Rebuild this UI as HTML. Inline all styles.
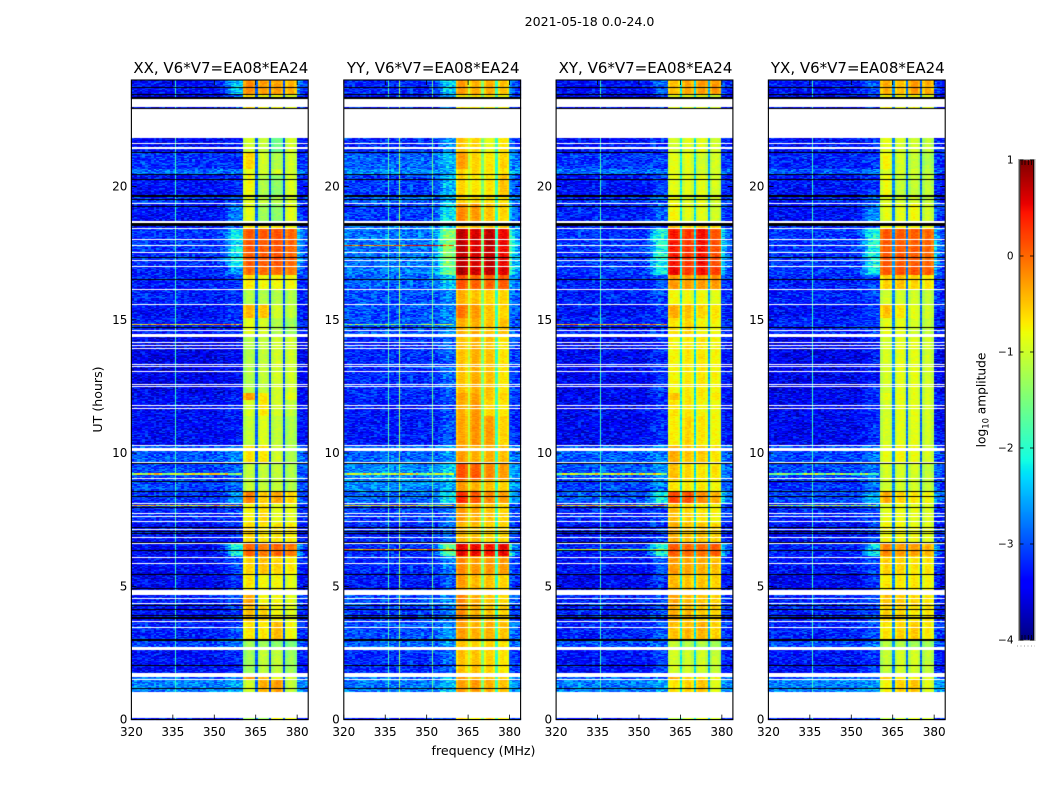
<!DOCTYPE html>
<html>
<head>
<meta charset="utf-8">
<title>2021-05-18 amplitude waterfall</title>
<style>
html,body{margin:0;padding:0;background:#fff;}
#figure{position:relative;width:1050px;height:800px;overflow:hidden;background:#fff;}
canvas{position:absolute;left:0;top:0;}
svg{position:absolute;left:0;top:0;}
text{font-family:"DejaVu Sans","Liberation Sans",sans-serif;fill:#000;}
</style>
</head>
<body>
<div id="figure">
<canvas id="heat" width="1050" height="800"></canvas>
<svg id="overlay" width="1050" height="800" viewBox="0 0 1050 800">
<text x="589.5" y="26" text-anchor="middle" font-size="12.6">2021-05-18 0.0-24.0</text>
<text x="483.5" y="755" text-anchor="middle" font-size="12.6">frequency (MHz)</text>
<text transform="translate(102,399.5) rotate(-90)" text-anchor="middle" font-size="12.6">UT (hours)</text>
<text transform="translate(985.5,400) rotate(-90)" text-anchor="middle" font-size="12.2">log<tspan dy="3" font-size="8.4">10</tspan><tspan dy="-3"> amplitude</tspan></text>
<g id="axes"></g>
</svg>
</div>
<script>
// ---- axis data ----
const panelTitles = ['XX, V6*V7=EA08*EA24','YY, V6*V7=EA08*EA24','XY, V6*V7=EA08*EA24','YX, V6*V7=EA08*EA24'];
const panelKeys = ['xx','yy','xy','yx'];
const freqTicks = [320,335,350,365,380];
const hourTicks = [0,5,10,15,20];
const colorTicks = [1,0,-1,-2,-3,-4];

// ---- heatmap data: one integration = 45 s (80 per hour), counted down from 24 UT ----
const epochEnd = [42,87,216,268,282,345,368,423,444,560,585,627,675,715,771,940,960,1010,1100,1146,1200,1237,1270,1330,1390,1430,1482,1540,1577,1628,1678,1710,1785,1797,1840,1920];

// each row: [background, near-band edge, sub-band 1, 2, 3, 4] in log10 amplitude
const levelsXX = [
[-3.35,-2.4,-0.2,-0.3,-0.3,-0.4],[-3.45,-2.9,-0.6,-0.8,-0.8,-0.9],[-3.4,-3.3,-1.0,-1.1,-1.6,-1.0],[-3.15,-3.2,-0.6,-1.0,-1.2,-1.0],
[-2.85,-2.8,-0.9,-1.0,-1.0,-1.0],[-3.35,-3.2,-0.8,-1.2,-1.4,-0.95],[-3.15,-3.1,-0.9,-1.1,-1.2,-1.0],[-3.35,-2.8,-0.9,-1.3,-1.4,-0.9],
[-3.35,-3.0,-0.7,-0.7,-0.7,-0.8],[-3.15,-2.2,0.05,0.05,0.1,0.0],[-3.25,-2.6,-0.05,-0.05,-0.05,-0.1],[-3.25,-3.1,-0.7,-0.8,-0.8,-0.8],
[-3.25,-3.2,-1.2,-1.2,-1.2,-1.2],[-3.35,-3.2,-0.45,-0.5,-1.0,-1.1],[-3.25,-3.2,-0.9,-1.0,-1.2,-1.3],[-3.5,-3.4,-1.2,-1.1,-1.0,-1.0],
[-3.4,-3.3,-0.3,-0.7,-1.0,-0.9],[-3.4,-3.3,-1.0,-0.7,-1.0,-1.1],[-3.4,-3.3,-1.1,-0.95,-1.1,-1.2],[-2.95,-2.7,-0.7,-0.7,-1.0,-1.2],
[-3.05,-2.9,-1.1,-1.1,-1.1,-1.2],[-3.05,-2.9,-1.1,-1.1,-1.1,-1.2],[-3.15,-2.7,-0.15,-0.55,-0.35,-0.6],[-3.25,-3.1,-0.8,-0.65,-0.9,-0.9],
[-3.35,-3.2,-0.6,-0.7,-0.7,-0.7],[-3.4,-2.1,0.0,-0.1,0.0,-0.1],[-3.4,-3.0,-0.6,-0.5,-0.6,-0.7],[-3.45,-3.2,-0.7,-0.8,-0.8,-0.9],
[-3.25,-3.1,-0.35,-0.8,-0.8,-0.9],[-3.35,-3.1,-0.5,-0.6,-0.8,-0.9],[-3.25,-3.0,-0.7,-0.7,-0.45,-0.8],[-3.05,-2.8,-1.3,-1.3,-1.4,-1.5],
[-3.35,-3.2,-1.3,-1.1,-1.1,-1.3],[-2.95,-2.8,-0.3,-0.5,-0.9,-1.0],[-2.75,-2.6,-1.0,-0.4,-0.3,-1.1],[-3.35,-3.2,-1.3,-1.3,-0.8,-0.8]];
const levelsYY = [
[-3.2,-2.4,-0.3,-0.4,-0.4,-0.5],[-3.3,-2.7,-0.7,-0.7,-0.7,-0.8],[-3.2,-2.7,-0.5,-0.6,-0.9,-0.7],[-2.9,-2.5,-0.3,-0.6,-0.7,-0.6],
[-2.7,-2.4,-0.6,-0.6,-0.7,-0.7],[-3.1,-2.5,-0.6,-0.7,-0.7,-0.5],[-2.9,-2.5,-0.6,-0.6,-0.7,-0.7],[-3.1,-2.2,-0.2,-0.3,-0.5,-0.6],
[-2.8,-2.4,-0.5,-0.5,-0.5,-0.6],[-2.8,-1.5,0.72,0.6,0.72,0.5],[-2.8,-1.6,0.78,0.65,0.72,0.55],[-2.9,-2.4,0.1,0.0,0.0,0.05],
[-3.0,-2.7,-0.4,-0.5,-0.6,-0.6],[-3.0,-2.7,-0.1,-0.3,-0.5,-0.6],[-3.0,-2.7,-0.4,-0.4,-0.5,-0.5],[-3.2,-2.9,-0.5,-0.4,-0.5,-0.7],
[-3.2,-2.9,-0.3,-0.35,-0.5,-0.6],[-3.3,-3.0,-0.4,-0.3,-0.6,-0.7],[-3.3,-3.0,-0.35,-0.25,-0.3,-0.6],[-2.9,-2.6,-0.3,-0.4,-0.4,-0.5],
[-2.7,-2.4,0.1,0.05,-0.2,-0.3],[-2.7,-2.5,-0.3,-0.4,-0.5,-0.6],[-2.9,-2.2,0.3,0.05,-0.2,-0.3],[-3.1,-2.8,-0.3,-0.4,-0.5,-0.6],
[-3.2,-2.9,-0.45,-0.5,-0.6,-0.6],[-3.2,-1.6,0.55,0.5,0.4,0.5],[-3.2,-2.8,-0.2,-0.3,-0.3,-0.3],[-3.3,-2.9,-0.3,-0.45,-0.5,-0.6],
[-3.0,-2.7,-0.2,-0.4,-0.5,-0.6],[-3.1,-2.8,-0.2,-0.4,-0.5,-0.6],[-3.0,-2.7,-0.3,-0.4,-0.4,-0.5],[-2.9,-2.6,-0.5,-0.6,-0.6,-0.7],
[-3.2,-2.9,-0.5,-0.5,-0.6,-0.7],[-2.8,-2.5,-0.3,-0.4,-0.5,-0.6],[-2.8,-2.4,-0.3,-0.3,-0.4,-0.5],[-3.3,-3.0,-0.6,-0.7,-0.6,-0.7]];
const levelsXY = [
[-3.35,-2.9,-0.5,-0.35,-0.3,-0.3],[-3.45,-3.2,-0.9,-0.9,-0.9,-1.0],[-3.35,-3.2,-1.0,-0.9,-0.9,-1.0],[-3.15,-3.1,-0.9,-0.9,-1.0,-1.0],
[-2.85,-2.8,-0.9,-0.9,-1.0,-1.0],[-3.35,-3.1,-0.9,-0.9,-0.9,-1.0],[-3.15,-3.0,-0.85,-0.9,-0.9,-1.0],[-3.25,-2.9,-0.8,-0.9,-0.9,-1.0],
[-3.25,-3.0,-0.5,-0.6,-0.6,-0.7],[-3.15,-2.1,0.4,0.25,0.45,0.1],[-3.15,-2.2,0.5,0.25,0.45,0.2],[-3.25,-3.0,-0.3,-0.3,-0.3,-0.3],
[-3.25,-3.1,-0.8,-0.8,-0.8,-0.9],[-3.35,-3.1,-0.4,-0.5,-0.6,-0.7],[-3.25,-3.1,-0.7,-0.6,-0.8,-0.8],[-3.45,-3.2,-0.8,-0.7,-0.7,-0.8],
[-3.45,-3.2,-0.5,-0.7,-0.7,-0.7],[-3.45,-3.2,-0.7,-0.7,-0.8,-0.85],[-3.45,-3.2,-0.75,-0.6,-0.7,-0.8],[-2.95,-2.7,-0.4,-0.5,-0.55,-0.7],
[-2.95,-2.7,-0.5,-0.6,-0.7,-0.7],[-3.05,-2.8,-0.7,-0.7,-0.7,-0.8],[-2.95,-2.1,0.15,0.1,-0.2,-0.4],[-3.25,-3.0,-0.5,-0.6,-0.7,-0.8],
[-3.35,-3.1,-0.4,-0.5,-0.5,-0.6],[-3.25,-2.0,0.05,0.0,-0.05,0.05],[-3.35,-3.0,-0.3,-0.35,-0.4,-0.5],[-3.45,-3.2,-0.45,-0.5,-0.5,-0.6],
[-3.25,-3.0,-0.35,-0.45,-0.5,-0.6],[-3.25,-3.0,-0.4,-0.45,-0.55,-0.6],[-3.25,-3.0,-0.5,-0.45,-0.4,-0.6],[-3.05,-2.8,-1.1,-1.2,-1.2,-1.3],
[-3.35,-3.1,-1.0,-1.0,-1.0,-1.1],[-2.95,-2.8,-0.4,-0.6,-0.7,-0.8],[-2.75,-2.6,-0.7,-0.6,-0.5,-0.9],[-3.35,-3.2,-1.2,-1.0,-0.9,-1.0]];
const levelsYX = [
[-3.35,-2.9,-0.4,-0.5,-0.3,-0.4],[-3.45,-3.2,-0.8,-0.8,-0.8,-0.9],[-3.35,-3.2,-0.9,-1.0,-1.0,-1.1],[-3.25,-3.1,-0.8,-1.0,-1.1,-1.2],
[-2.95,-2.8,-1.0,-1.0,-1.0,-1.1],[-3.35,-3.1,-0.85,-1.1,-1.1,-1.1],[-3.25,-3.0,-0.9,-1.0,-1.0,-1.1],[-3.35,-2.7,-0.9,-0.9,-0.8,-1.0],
[-3.25,-3.0,-0.8,-0.8,-0.8,-0.9],[-3.15,-2.1,0.05,0.05,0.05,0.0],[-3.15,-2.2,0.05,0.1,0.1,0.05],[-3.25,-3.0,-0.6,-0.5,-0.6,-0.7],
[-3.25,-3.1,-1.0,-1.0,-1.0,-1.1],[-3.35,-3.1,-0.5,-0.7,-0.9,-1.0],[-3.25,-3.1,-0.9,-0.9,-1.0,-1.1],[-3.5,-3.3,-1.0,-0.9,-0.9,-1.0],
[-3.45,-3.2,-0.9,-0.85,-0.9,-0.95],[-3.45,-3.2,-1.0,-0.9,-0.9,-1.0],[-3.45,-3.2,-1.0,-0.9,-0.9,-1.0],[-3.05,-2.8,-0.9,-0.8,-0.85,-0.95],
[-3.05,-2.8,-1.0,-1.0,-1.0,-1.1],[-3.15,-2.9,-1.0,-1.0,-1.0,-1.1],[-3.05,-2.5,-0.4,-0.6,-0.7,-0.8],[-3.25,-3.0,-0.9,-0.85,-0.9,-0.95],
[-3.35,-3.1,-0.8,-0.8,-0.85,-0.9],[-3.25,-2.3,-0.2,-0.3,-0.3,-0.4],[-3.35,-3.0,-0.6,-0.6,-0.7,-0.7],[-3.45,-3.2,-0.7,-0.7,-0.7,-0.8],
[-3.25,-3.0,-0.5,-0.55,-0.6,-0.7],[-3.25,-3.0,-0.6,-0.6,-0.7,-0.7],[-3.25,-3.0,-0.7,-0.6,-0.55,-0.7],[-3.05,-2.8,-1.2,-1.2,-1.3,-1.3],
[-3.35,-3.1,-1.1,-1.0,-1.0,-1.1],[-2.95,-2.8,-0.5,-0.7,-0.8,-0.9],[-2.75,-2.6,-0.8,-0.6,-0.5,-0.9],[-3.35,-3.2,-1.2,-1.0,-0.9,-1.0]];

// sub-band edges (MHz) and the levels of the three notches between them
const bandStart = [360.5,365.7,370.6,375.7];
const bandEnd = [364.9,369.8,374.9,379.8];
const bandShape = [-0.14,0.03,0.06,0.03,-0.12];
const gapXX = [-2.9,-3.0,-3.0];
const gapYY = [-1.1,-1.5,-1.9];
const gapXY = [-2.2,-2.3,-2.5];
const gapYX = [-2.7,-2.8,-2.9];

// how far each channel leans towards the "near-band edge" level
const edgeWeight = [0,0,0,0,0,0,0,0,0,0,0,0,0,0,0,0,0,0,0,0,0,0,0,0,0,0,0,0,0,0,0,0,.1,.2,.4,.7,1,1,1,1,1,0,0,0,0,0,0,0,0,0,0,0,0,0,0,0,0,0,0,0,.7,.4,.2,.1];

// persistent narrow-band interference columns: frequency (MHz) and level
const lineFreqXX = [335.9];
const lineLevelXX = [-1.9];
const lineFreqYY = [335.9,340.1,351.9];
const lineLevelYY = [-1.8,-1.3,-1.6];
const lineFreqXY = [335.9];
const lineLevelXY = [-1.9];
const lineFreqYX = [335.9];
const lineLevelYX = [-1.9];

// flagged integrations: w = no data (white), k = dropped (black)
const flagStart = [22,42,51,56,84,87,188,201,216,282,296,345,358,368,378,423,428,444,478,495,516,531,539,557,597,627,672,741,750,761,786,795,804,852,860,873,912,918,975,984,1095,1106,1146,1149,1167,1195,1203,1234,1248,1270,1282,1299,1310,1325,1332,1341,1347,1354,1361,1373,1388,1391,1410,1431,1449,1482,1525,1530,1554,1569,1577,1589,1606,1613,1625,1641,1678,1686,1701,1756,1779,1797,1825,1836,1838];
const flagLength = [2,3,5,25,3,87,4,6,2,3,3,5,3,4,3,5,9,3,3,3,3,4,4,3,3,3,3,3,3,10,3,3,3,3,3,3,3,3,3,3,5,7,3,3,2,3,3,3,3,3,4,3,3,3,2,3,3,3,2,3,3,3,3,3,3,4,3,15,3,3,2,2,3,6,3,3,5,2,9,3,12,4,2,2,76];
const flagKind = ['k','k','k','w','k','w','w','w','k','k','k','k','k','w','k','w','k','w','w','w','w','k','w','w','k','w','w','k','w','w','w','w','w','w','w','w','w','w','w','w','w','w','w','k','k','w','k','k','k','w','k','w','w','w','k','k','w','k','k','w','k','w','k','w','w','k','k','w','w','w','k','k','k','k','w','w','k','w','w','k','w','w','k','k','w'];

// broadband interference rows; null = not seen in that correlation
const rfiStart = [495,732,1181,1277,1407];
const rfiLength = [3,4,4,3,3];
const rfiXX = [null,-0.4,-0.9,-0.6,null];
const rfiYY = [0.1,-1.4,-1.0,-0.7,-0.3];
const rfiXY = [null,-0.4,-1.0,-0.6,-1.2];
const rfiYX = [null,null,-1.4,-1.4,null];

// grain sampled from the background texture
const speckle = [2,-1,0,3,-2,1,-3,0,2,-1,-2,1,3,-1,0,-2,2,0,-3,1,1,-2,3,0,-1,2,-3,1,0,-1,2,-2,0,3,-1,1,-2,-3,2,0,1,-1,3,-2,0,2,-1,0,-3,1,2,-2,1,3,0,-1,-2,2,-1,0,3,-3,1,0,-2,2,1,-1,0,-2,3,1,-3,0,2,-1,1,-2,0,3,-1,2,-3,1,0,-1,-2,2,3,0,-1,1,-2,0,2,-3,1];

// ---- scales ----
const panelLeft = [131.4,343.8,556.1,768.4];
const panelWidth = 176.8;
const plotTop = 80;
const plotBottom = 719.6;
const barLeft = 1019.5;
const barRight = 1034;
const barTop = 160;
const barBottom = 640;
const levelSets = [levelsXX,levelsYY,levelsXY,levelsYX];
const gapSets = [gapXX,gapYY,gapXY,gapYX];
const lineFreqSets = [lineFreqXX,lineFreqYY,lineFreqXY,lineFreqYX];
const lineLevelSets = [lineLevelXX,lineLevelYY,lineLevelXY,lineLevelYX];
const rfiSets = [rfiXX,rfiYY,rfiXY,rfiYX];

function xScale(p,f){return panelLeft[p]+(f-320)/64*panelWidth;}
function yHour(h){return plotBottom-h/24*(plotBottom-plotTop);}
function ySample(s){return plotTop+s/1920*(plotBottom-plotTop);}
function yLevel(v){return barTop+(1-v)/5*(barBottom-barTop);}

function piece(t,pts){
  for(let i=1;i<pts.length;i++){
    if(t<=pts[i][0]){
      const a=pts[i-1],b=pts[i];
      return a[1]+(t-a[0])/(b[0]-a[0])*(b[1]-a[1]);
    }
  }
  return pts[pts.length-1][1];
}
function jet(v){
  const t=Math.max(0,Math.min(1,(v+4)/5));
  const r=piece(t,[[0,0],[.35,0],[.66,1],[.89,1],[1,.5]]);
  const g=piece(t,[[0,0],[.125,0],[.375,1],[.64,1],[.91,0],[1,0]]);
  const b=piece(t,[[0,.5],[.11,1],[.34,1],[.65,0],[1,0]]);
  return 'rgb('+Math.round(r*255)+','+Math.round(g*255)+','+Math.round(b*255)+')';
}

const ctx=document.getElementById('heat').getContext('2d');
function cell(x0,x1,y0,y1,color){
  const X0=Math.round(x0),X1=Math.round(x1),Y0=Math.round(y0),Y1=Math.round(y1);
  if(X1<=X0||Y1<=Y0)return;
  ctx.fillStyle=color;
  ctx.fillRect(X0,Y0,X1-X0,Y1-Y0);
}
function grain(row,col,p){return speckle[(row*row*3+row*7+col*col*5+col*row+col+p*11)%speckle.length];}

// ---- heat cells ----
function drawPanel(p){
  const levels=levelSets[p];
  let start=0;
  let row=0;
  for(let e=0;e<epochEnd.length;e++){
    const L=levels[e];
    for(let s=start;s<epochEnd[e];s+=3){
      const y0=ySample(s),y1=ySample(Math.min(s+3,epochEnd[e]));
      for(let c=0;c<64;c++){
        const f=320+c;
        if(f>=360&&f<380)continue;
        const v=L[0]+edgeWeight[c]*(L[1]-L[0])+grain(row,c,p)*0.14;
        cell(xScale(p,f),xScale(p,f+1),y0,y1,jet(v));
      }
      cell(xScale(p,360),xScale(p,bandStart[0]),y0,y1,jet(L[1]+grain(row,40,p)*0.1));
      for(let b=0;b<4;b++){
        const w=(bandEnd[b]-bandStart[b])/bandShape.length;
        for(let k=0;k<bandShape.length;k++){
          const v=L[2+b]+bandShape[k]+grain(row,b*5+k,p)*0.035;
          cell(xScale(p,bandStart[b]+k*w),xScale(p,bandStart[b]+(k+1)*w),y0,y1,jet(v));
        }
        if(b<3){
          cell(xScale(p,bandEnd[b]),xScale(p,bandStart[b+1]),y0,y1,jet(gapSets[p][b]+grain(row,b+50,p)*0.05));
        }
      }
      cell(xScale(p,bandEnd[3]),xScale(p,380),y0,y1,jet(L[1]));
      for(let i=0;i<lineFreqSets[p].length;i++){
        const x=xScale(p,lineFreqSets[p][i]);
        cell(x,x+1,y0,y1,jet(lineLevelSets[p][i]+grain(row,i,p)*0.05));
      }
      row++;
    }
    start=epochEnd[e];
  }
  // flagged rows
  for(let i=0;i<flagStart.length;i++){
    const col=flagKind[i]==='w'?'#ffffff':'#000000';
    cell(panelLeft[p],panelLeft[p]+panelWidth,ySample(flagStart[i]),ySample(flagStart[i]+flagLength[i]),col);
  }
  // interference rows (background channels only)
  for(let i=0;i<rfiStart.length;i++){
    const v=rfiSets[p][i];
    if(v===null)continue;
    for(let c=0;c<40;c++){
      cell(xScale(p,320+c),xScale(p,321+c),ySample(rfiStart[i]),ySample(rfiStart[i]+rfiLength[i]),jet(v+grain(i,c,p)*0.2));
    }
  }
}
for(let p=0;p<4;p++)drawPanel(p);

// ---- colorbar cells ----
for(let y=barTop;y<barBottom;y++){
  const v=1-(y+0.5-barTop)/(barBottom-barTop)*5;
  cell(barLeft,barRight,yLevel(1-(y-barTop)/96),yLevel(1-(y+1-barTop)/96),jet(v));
}

// ---- axes ----
const NS='http://www.w3.org/2000/svg';
const axes=document.getElementById('axes');
function line(parent,x1,y1,x2,y2,color,width){
  const l=document.createElementNS(NS,'line');
  l.setAttribute('x1',x1);
  l.setAttribute('y1',y1);
  l.setAttribute('x2',x2);
  l.setAttribute('y2',y2);
  l.setAttribute('stroke',color);
  l.setAttribute('stroke-width',width);
  parent.appendChild(l);
  return l;
}
function label(parent,x,y,str,anchor,size){
  const t=document.createElementNS(NS,'text');
  t.setAttribute('x',x);
  t.setAttribute('y',y);
  t.setAttribute('text-anchor',anchor);
  t.setAttribute('font-size',size);
  t.textContent=str;
  parent.appendChild(t);
  return t;
}
for(let p=0;p<4;p++){
  const g=document.createElementNS(NS,'g');
  
  
  axes.appendChild(g);
  const left=panelLeft[p],right=left+panelWidth;
  const title=label(g,left+panelWidth/2+1,73,panelTitles[p],'middle',15);
  
  
  const box=document.createElementNS(NS,'rect');
  box.setAttribute('x',left);
  box.setAttribute('y',plotTop);
  box.setAttribute('width',panelWidth);
  box.setAttribute('height',plotBottom-plotTop);
  box.setAttribute('fill','none');
  box.setAttribute('stroke','#000');
  box.setAttribute('stroke-width','1.1');
  
  
  g.appendChild(box);
  freqTicks.forEach(function(f){
    const x=xScale(p,f);
    const tickBottom=line(g,x,plotBottom,x,plotBottom-5,'#000',0.8);
    
    
    const tickTop=line(g,x,plotTop,x,plotTop+5,'#000',0.8);
    
    
    const tl=label(g,x,736,String(f),'middle',12);
    
    
  });
  hourTicks.forEach(function(h){
    const y=yHour(h);
    const tickLeft=line(g,left,y,left+5,y,'#000',0.8);
    
    
    const tickRight=line(g,right,y,right-5,y,'#000',0.8);
    
    
    const tl=label(g,left-4,y+4,String(h),'end',12);
    
    
  });
}

// ---- colorbar frame ----
const bar=document.createElementNS(NS,'g');


axes.appendChild(bar);
const barFrame=document.createElementNS(NS,'rect');
barFrame.setAttribute('x',barLeft-1);
barFrame.setAttribute('y',barTop-0.5);
barFrame.setAttribute('width',barRight-barLeft+2);
barFrame.setAttribute('height',barBottom-barTop+1);
barFrame.setAttribute('fill','none');
barFrame.setAttribute('stroke','#aaa');
barFrame.setAttribute('stroke-width','1');


bar.appendChild(barFrame);
line(bar,barLeft+0.3,barTop,barLeft+0.3,barBottom,'#000',1);
line(bar,barRight-0.3,barTop,barRight-0.3,barBottom,'#000',1);
colorTicks.forEach(function(v){
  const y=yLevel(v);
  const minus=v<0?'\u2212':'';
  const tl=label(bar,1013.5,y+3.5,minus+Math.abs(v),'end',10.5);
  
  
  const a=line(bar,barLeft,y,barLeft+4,y,'#000',0.8);
  
  
  const b=line(bar,barRight,y,barRight-4,y,'#000',0.8);
  
  
});
[1022,1025,1028.3,1031.6].forEach(function(x){
  line(bar,x,barTop,x,barTop+5,'#000',0.8);
  line(bar,x,barBottom,x,barBottom-5,'#000',0.8);
});
const dots=line(bar,1017,646,1035,646,'#999',1);
dots.setAttribute('stroke-dasharray','1 2.5');


</script>
</body>
</html>
